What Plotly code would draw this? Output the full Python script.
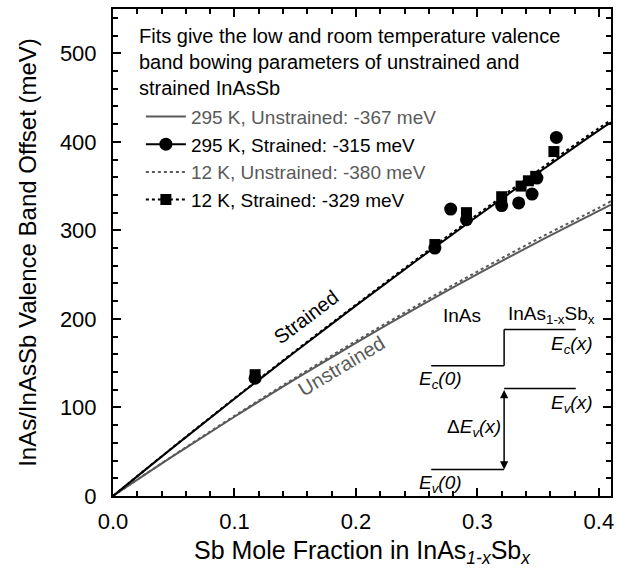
import plotly.graph_objects as go

# ---------------- data ----------------
fit_x = [0.0, 0.05, 0.10, 0.15, 0.20, 0.25, 0.30, 0.35, 0.40, 0.41]
fit_295_unstrained = [0, 45.5, 89.5, 132, 173, 212.5, 250.5, 287, 322, 329]
fit_12_unstrained = [0, 46, 90.5, 133.5, 175, 215, 253.5, 290.5, 325.5, 333]
fit_295_strained = [0, 55.5, 109.8, 163, 215, 266, 316, 365, 413, 422]
fit_12_strained = [0, 55.8, 110.3, 163.8, 216, 267.5, 318, 367.5, 415.5, 424.5]

circ_x = [0.117, 0.265, 0.278, 0.291, 0.320, 0.334, 0.345, 0.349, 0.365]
circ_y = [133, 280, 324, 312, 328, 331, 341, 359, 405]
sq_x = [0.117, 0.265, 0.291, 0.320, 0.336, 0.342, 0.348, 0.363]
sq_y = [137, 284, 320, 338, 350, 356, 361, 389]

legend_names = ["295 K, Unstrained: -367 meV", "295 K, Strained: -315 meV",
                "12 K, Unstrained: -380 meV", "12 K, Strained: -329 meV"]

GRAY = "#5a5a5a"
FONT = "Liberation Sans, Arial, sans-serif"

fig = go.Figure()

def gray(s):
    return '<span style="color:%s">%s</span>' % (GRAY, s)

# legend / fit traces
fig.add_trace(go.Scatter(x=fit_x, y=fit_295_unstrained, mode="lines", line=dict(color=GRAY, width=2),
                         name=gray(legend_names[0]), legendgroup="a", line_shape="spline"))
fig.add_trace(go.Scatter(x=[None], y=[None], mode="lines+markers", line=dict(color="black", width=2),
                         marker=dict(symbol="circle", size=13, color="black"),
                         name=legend_names[1], legendgroup="b"))
fig.add_trace(go.Scatter(x=fit_x, y=fit_12_unstrained, mode="lines", line=dict(color=GRAY, width=2, dash="dot"),
                         name=gray(legend_names[2]), legendgroup="c", line_shape="spline"))
fig.add_trace(go.Scatter(x=[None], y=[None], mode="lines+markers", line=dict(color="black", width=2, dash="dot"),
                         marker=dict(symbol="square", size=11, color="black"),
                         name=legend_names[3], legendgroup="d"))

fig.add_trace(go.Scatter(x=fit_x, y=fit_295_strained, mode="lines", line=dict(color="black", width=2),
                         showlegend=False, line_shape="spline"))
fig.add_trace(go.Scatter(x=fit_x, y=fit_12_strained, mode="lines", line=dict(color="black", width=2, dash="dot"),
                         showlegend=False, line_shape="spline"))
fig.add_trace(go.Scatter(x=sq_x, y=sq_y, mode="markers",
                         marker=dict(symbol="square", size=11, color="black"), showlegend=False))
fig.add_trace(go.Scatter(x=circ_x, y=circ_y, mode="markers",
                         marker=dict(symbol="circle", size=13, color="black"), showlegend=False))

axis_common = dict(showline=True, linewidth=2, linecolor="black", mirror="allticks",
                   ticks="inside", ticklen=8, tickwidth=2, tickcolor="black",
                   showgrid=False, zeroline=False,
                   tickfont=dict(family=FONT, size=22, color="black"))

fig.update_xaxes(range=[0, 0.41], tick0=0, dtick=0.1, tickformat=".1f", ticklabelstandoff=5,
                 minor=dict(dtick=0.02, ticks="inside", ticklen=5, tickwidth=1.5, tickcolor="black"),
                 title=dict(text="Sb Mole Fraction in InAs<sub><i>1-x</i></sub>Sb<sub><i>x</i></sub>",
                            font=dict(family=FONT, size=25, color="black"), standoff=8),
                 **axis_common)
fig.update_yaxes(range=[0, 550], tick0=0, dtick=100, ticklabelstandoff=10,
                 minor=dict(dtick=20, ticks="inside", ticklen=5, tickwidth=1.5, tickcolor="black"),
                 title=dict(text="InAs/InAsSb Valence Band Offset (meV)",
                            font=dict(family=FONT, size=24, color="black"), standoff=16),
                 **axis_common)

annotations = [
    dict(xref="paper", yref="paper", x=0.048, y=0.972, xanchor="left", yanchor="top", align="left",
         showarrow=False, font=dict(family=FONT, size=20, color="black"),
         text="Fits give the low and room temperature valence<br>band bowing parameters of unstrained and<br>strained InAsSb"),
    dict(x=0.159, y=202, text="Strained", textangle=-37, showarrow=False,
         font=dict(family=FONT, size=20, color="black")),
    dict(x=0.188, y=147, text="Unstrained", textangle=-31, showarrow=False,
         font=dict(family=FONT, size=20, color=GRAY)),
    # band diagram labels
    dict(x=0.287, y=204, text="InAs", showarrow=False, font=dict(family=FONT, size=19, color="black")),
    dict(x=0.361, y=204, text="InAs<sub>1-x</sub>Sb<sub>x</sub>", showarrow=False,
         font=dict(family=FONT, size=19, color="black")),
    dict(x=0.378, y=170, text="<i>E<sub>c</sub>(x)</i>", showarrow=False,
         font=dict(family=FONT, size=19, color="black")),
    dict(x=0.270, y=131, text="<i>E<sub>c</sub>(0)</i>", showarrow=False,
         font=dict(family=FONT, size=19, color="black")),
    dict(x=0.378, y=104, text="<i>E<sub>v</sub>(x)</i>", showarrow=False,
         font=dict(family=FONT, size=19, color="black")),
    dict(x=0.297, y=77, text="Δ<i>E<sub>v</sub>(x)</i>", showarrow=False,
         font=dict(family=FONT, size=19, color="black")),
    dict(x=0.270, y=14, text="<i>E<sub>v</sub>(0)</i>", showarrow=False,
         font=dict(family=FONT, size=19, color="black")),
    dict(x=0.322, y=30, ax=0.322, ay=121.5, axref="x", ayref="y", text="", showarrow=True,
         arrowhead=2, startarrowhead=2, arrowside="end+start", arrowsize=1.1, arrowwidth=1.5,
         arrowcolor="black"),
]

seg = dict(color="black", width=1.5)
shapes = [
    dict(type="line", x0=0.262, x1=0.322, y0=147, y1=147, line=seg),
    dict(type="line", x0=0.322, x1=0.322, y0=147, y1=188, line=seg),
    dict(type="line", x0=0.322, x1=0.381, y0=188, y1=188, line=seg),
    dict(type="line", x0=0.322, x1=0.381, y0=121.5, y1=121.5, line=seg),
    dict(type="line", x0=0.262, x1=0.322, y0=30, y1=30, line=seg),
]

fig.update_layout(
    width=621, height=576,
    margin=dict(l=113, r=9, t=7, b=80),
    plot_bgcolor="white", paper_bgcolor="white",
    font=dict(family=FONT, color="black"),
    annotations=annotations, shapes=shapes,
    legend=dict(x=0.056, y=0.818, xanchor="left", yanchor="top", bgcolor="rgba(0,0,0,0)",
                font=dict(family=FONT, size=19, color="black"), tracegroupgap=0,
                itemwidth=40),
    showlegend=True,
)

fig.write_html("out.html", config={"displayModeBar": False},
               post_script="document.body.style.margin='0px';")
